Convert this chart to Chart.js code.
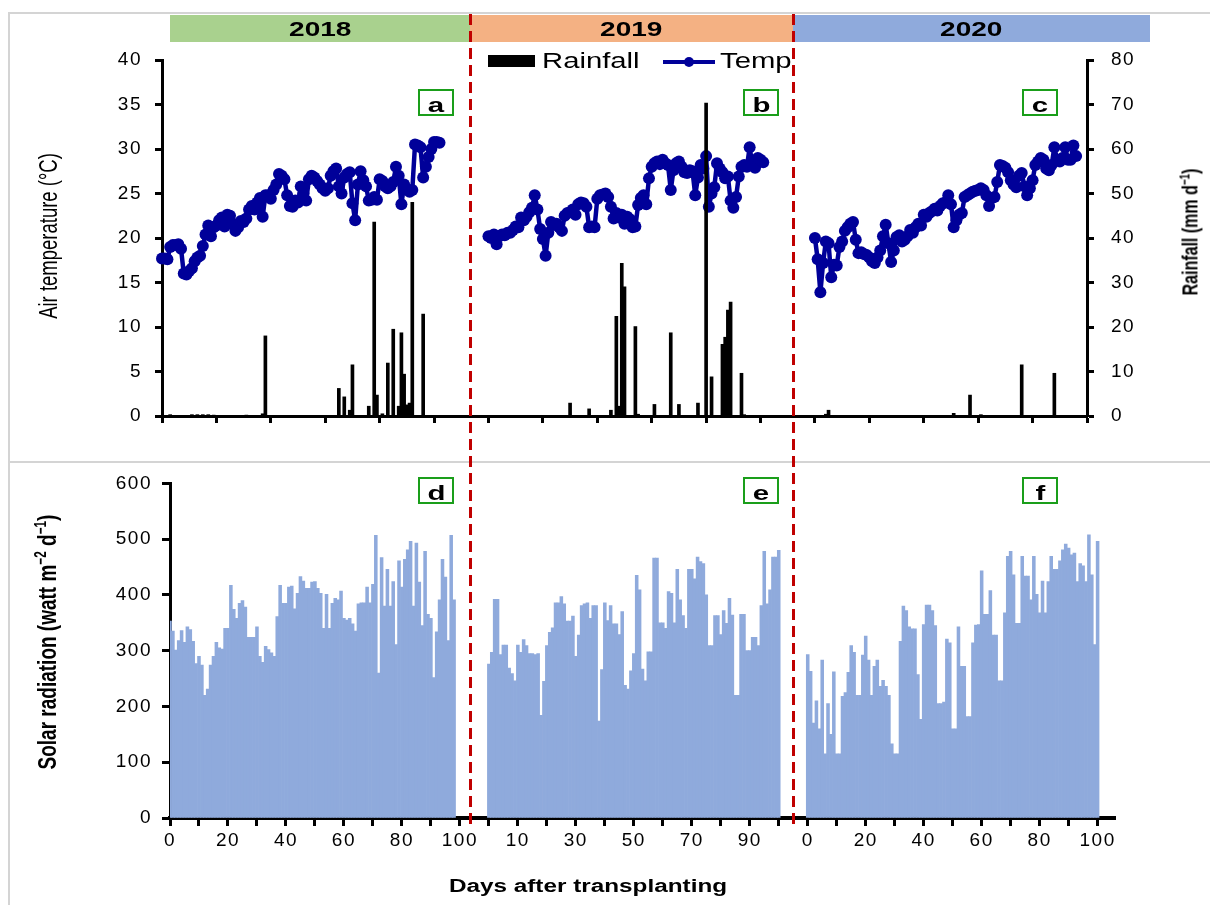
<!DOCTYPE html>
<html>
<head>
<meta charset="utf-8">
<title>Weather during the three seasons</title>
<script src="https://cdn.jsdelivr.net/npm/chart.js@4.4.1/dist/chart.umd.min.js"></script>
<style>
  body { margin: 0; background: #fff; }
  #figure { position: relative; width: 1210px; height: 905px; overflow: hidden; font-family: "Liberation Sans", Arial, sans-serif; color: #000; }
  #figure canvas { position: absolute; left: 0; }
  .rule { position: absolute; background: #d4d4d4; }
  .season { position: absolute; top: 15px; height: 27px; line-height: 28px; text-align: center; font-weight: bold; font-size: 20px; }
  .wide { display: inline-block; transform: scaleX(1.4); }
  .tag { position: absolute; width: 32px; height: 23px; border: 2px solid #1a9e1a; background: #fff; text-align: center; line-height: 27px; font-weight: bold; font-size: 21px; }
  .season-break { position: absolute; top: 14px; width: 3px; height: 814px; z-index: 5;
    background: repeating-linear-gradient(to bottom, #c00000 0 11px, transparent 11px 17px); }
  .axis-title { position: absolute; white-space: nowrap; transform: translate(-50%, -50%) rotate(-90deg) scaleY(1.4); }
  .axis-title sup { font-size: 0.62em; }
  .key { position: absolute; }
  .key-text { position: absolute; top: 49px; font-size: 22px; line-height: 24px; transform: scaleX(1.33); transform-origin: left center; }
  #x-title { position: absolute; left: 588px; top: 886px; transform: translate(-50%, -50%) scaleX(1.35); font-weight: bold; font-size: 18px; white-space: nowrap; }
</style>
</head>
<body>
<div id="figure">
  <div class="rule" style="left:9px;top:12px;width:1201px;height:2px"></div>
  <div class="rule" style="left:8px;top:12px;width:2px;height:893px"></div>
  <div class="rule" style="left:9px;top:461px;width:1201px;height:2px"></div>

  <canvas id="weather-chart" width="1210" height="462" style="top:0"></canvas>
  <canvas id="solar-chart" width="1210" height="443" style="top:462px"></canvas>

  <div class="season" style="left:170px;width:300px;background:#a9d18e"><span class="wide">2018</span></div>
  <div class="season" style="left:470px;width:323px;background:#f4b183"><span class="wide">2019</span></div>
  <div class="season" style="left:793px;width:357px;background:#8faadc"><span class="wide">2020</span></div>

  <div class="key" style="left:488px;top:55px;width:47px;height:12px;background:#000"></div>
  <div class="key-text" style="left:542px">Rainfall</div>
  <div class="key" style="left:663px;top:60px;width:52px;height:4px;background:#000099"></div>
  <div class="key" style="left:684px;top:57px;width:10px;height:10px;border-radius:50%;background:#000099"></div>
  <div class="key-text" style="left:720px">Temp</div>

  <div class="tag" style="left:418px;top:89px"><span class="wide">a</span></div>
  <div class="tag" style="left:743px;top:89px"><span class="wide">b</span></div>
  <div class="tag" style="left:1022px;top:89px"><span class="wide">c</span></div>
  <div class="tag" style="left:418px;top:477px"><span class="wide">d</span></div>
  <div class="tag" style="left:743px;top:477px"><span class="wide">e</span></div>
  <div class="tag" style="left:1022px;top:477px"><span class="wide">f</span></div>

  <div class="axis-title" style="left:49px;top:236px;font-size:18.5px">Air temperature (°C)</div>
  <div class="axis-title" style="left:1190px;top:232px;font-size:16px;font-weight:bold">Rainfall (mm d<sup>−1</sup>)</div>
  <div class="axis-title" style="left:47px;top:642px;font-size:19px;font-weight:bold">Solar radiation (watt m<sup>−2</sup> d<sup>−1</sup>)</div>
  <div id="x-title">Days after transplanting</div>

  <div class="season-break" style="left:469px"></div>
  <div class="season-break" style="left:792px"></div>
</div>

<script>
// daily air temperature (°C), one value per day after transplanting
const temp2018 = [17.7, 17.7, 17.6, 19.0, 19.2, 19.2, 19.3, 18.8, 16.0, 15.9,
  16.3, 16.6, 17.4, 17.8, 18.0, 19.1, 20.4, 21.4, 20.2, 21.2,
  21.4, 22.0, 22.3, 21.3, 22.6, 22.5, 21.6, 20.8, 21.2, 21.9,
  21.8, 22.2, 23.2, 23.6, 23.2, 24.0, 24.5, 22.4, 24.8, 24.8,
  24.4, 25.4, 26.0, 27.2, 27.0, 26.6, 24.8, 23.6, 23.5, 24.2,
  24.0, 25.8, 25.0, 24.2, 26.6, 27.0, 26.8, 26.4, 26.0, 25.6,
  25.3, 25.6, 27.0, 27.5, 27.8, 25.8, 25.0, 26.8, 27.2, 27.4,
  23.9, 22.0, 26.0, 27.5, 26.5, 25.8, 24.2, 24.3, 24.6, 24.3,
  26.6, 26.4, 25.8, 25.6, 25.8, 26.3, 28.0, 27.0, 23.8, 26.0,
  25.5, 25.2, 25.4, 30.5, 30.4, 30.2, 26.8, 28.0, 29.1, 30.0,
  30.8, 30.8, 30.7];
const temp2019 = [20.2, 20.0, 20.4, 19.3, 20.2, 20.4, 20.3, 20.6, 20.6, 20.9,
  21.3, 21.2, 22.3, 22.0, 22.4, 22.9, 23.4, 24.8, 23.2, 21.0,
  19.9, 18.0, 20.6, 21.8, 21.5, 21.6, 21.2, 20.8, 22.5, 22.8,
  22.9, 23.2, 22.6, 23.8, 24.0, 23.9, 23.5, 21.2, 21.3, 21.2,
  24.4, 24.8, 24.9, 25.0, 24.6, 23.5, 22.2, 22.8, 22.3, 22.6,
  21.6, 22.4, 22.1, 21.2, 21.3, 23.7, 24.5, 24.8, 23.8, 26.7,
  28.0, 28.4, 28.6, 28.3, 28.8, 28.4, 28.2, 25.4, 27.6, 28.4,
  28.6, 28.0, 27.4, 27.3, 27.6, 27.5, 24.8, 26.8, 28.2, 27.8,
  29.2, 23.5, 25.0, 25.7, 28.4, 27.8, 27.4, 26.7, 26.9, 24.2,
  23.4, 24.6, 26.9, 28.0, 28.2, 28.0, 30.2, 28.2, 27.9, 29.0,
  28.8, 28.5];
const temp2020 = [20.0, 17.6, 13.9, 17.2, 19.6, 19.4, 15.6, 17.0, 16.9, 19.0,
  19.6, 20.8, 21.2, 21.6, 21.8, 19.8, 18.3, 18.4, 18.2, 18.1,
  17.8, 17.4, 17.2, 17.8, 18.6, 20.2, 21.5, 19.4, 17.3, 18.6,
  20.1, 20.3, 19.6, 19.8, 20.2, 20.9, 20.6, 21.2, 21.6, 21.4,
  22.6, 22.4, 22.8, 23.0, 23.3, 23.1, 23.6, 23.9, 24.0, 24.8,
  23.8, 21.2, 22.0, 22.6, 22.8, 24.6, 24.8, 25.0, 25.2, 25.3,
  25.4, 25.6, 25.4, 24.8, 23.6, 24.5, 24.6, 26.3, 28.2, 28.1,
  27.9, 27.4, 26.5, 26.0, 25.7, 27.0, 27.3, 25.8, 24.8, 25.6,
  26.5, 28.2, 28.6, 29.0, 28.8, 27.8, 27.6, 28.2, 30.2, 28.8,
  28.6, 29.0, 30.2, 28.8, 28.8, 30.4, 29.2];

// rainy days (day after transplanting) and the rain on them (mm)
const rainDay2018 = [3, 11, 13, 15, 17, 19, 31, 37, 38, 65, 67, 69, 70, 76, 78, 79, 81, 83, 85, 87, 88, 89, 90, 91, 92, 96];
const rain2018 = [0.3, 0.3, 0.3, 0.3, 0.3, 0.2, 0.2, 0.5, 18.0, 6.2, 4.3, 1.3, 11.5, 2.2, 43.6, 4.7, 0.5, 11.9, 19.5, 2.2, 18.7, 9.4, 2.5, 2.9, 48.0, 22.9];
const rainDay2019 = [30, 37, 45, 47, 48, 49, 50, 54, 55, 61, 67, 70, 77, 80, 82, 86, 87, 88, 89, 93, 94];
const rain2019 = [2.9, 1.6, 1.3, 22.4, 2.2, 34.3, 29.0, 20.1, 0.4, 2.6, 18.7, 2.6, 2.9, 70.3, 8.8, 16.1, 17.7, 23.8, 25.6, 9.6, 0.3];
const rainDay2020 = [4, 5, 51, 57, 61, 76, 88];
const rain2020 = [0.4, 1.3, 0.6, 4.7, 0.3, 11.5, 9.6];

// daily solar radiation (watt m-2 d-1)
const solar2018 = [353, 335, 301, 318, 336, 315, 343, 338, 317, 277,
  290, 274, 220, 231, 274, 290, 315, 305, 303, 340,
  340, 417, 374, 358, 385, 390, 378, 324, 324, 324,
  343, 290, 279, 308, 302, 296, 290, 361, 417, 385,
  385, 414, 416, 375, 403, 433, 425, 412, 412, 423,
  424, 412, 403, 340, 401, 340, 385, 394, 391, 407,
  358, 355, 358, 348, 335, 384, 386, 386, 414, 386,
  419, 507, 260, 467, 380, 446, 380, 424, 311, 461,
  414, 464, 481, 496, 380, 493, 423, 345, 478, 365,
  358, 252, 334, 391, 464, 432, 318, 507, 391];
const solar2019 = [276, 297, 392, 392, 293, 310, 310, 269, 259, 246,
  310, 297, 320, 309, 295, 295, 293, 295, 184, 245,
  309, 333, 341, 386, 386, 397, 384, 353, 353, 362,
  290, 328, 381, 384, 386, 358, 381, 381, 174, 266,
  386, 354, 381, 348, 348, 329, 370, 238, 231, 264,
  295, 435, 409, 267, 246, 298, 298, 466, 466, 350,
  350, 340, 406, 403, 350, 446, 391, 363, 340, 446,
  446, 429, 468, 460, 456, 400, 309, 309, 363, 363,
  329, 372, 349, 394, 364, 220, 220, 365, 365, 300,
  300, 324, 324, 309, 381, 478, 384, 409, 468, 468,
  480];
const solar2020 = [293, 263, 170, 210, 160, 283, 115, 205, 150, 262,
  115, 115, 218, 225, 261, 309, 297, 220, 220, 292,
  326, 283, 220, 272, 283, 236, 247, 236, 220, 133,
  115, 115, 317, 380, 372, 343, 339, 339, 257, 177,
  347, 382, 382, 372, 345, 205, 205, 208, 321, 314,
  160, 160, 343, 272, 272, 182, 182, 314, 346, 347,
  443, 365, 365, 408, 328, 328, 246, 246, 368, 469,
  478, 436, 349, 349, 469, 434, 434, 391, 469, 401,
  368, 425, 368, 424, 469, 446, 446, 461, 481, 491,
  484, 472, 475, 424, 456, 452, 424, 508, 436, 311,
  496];

// slots on the two category axes and where each season begins on them
const topSlots = 341;
const topStart = [0, 120, 240];
const solarSlots = 327;
const solarStart = [0, 110, 220];
// labels under every 20th slot of the solar axis
const solarTickLabels = ['0', '20', '40', '60', '80', '100', '10', '30', '50', '70', '90', '0', '20', '40', '60', '80', '100'];

Chart.defaults.font.family = '"Liberation Sans", Arial, sans-serif';
Chart.defaults.font.size = 19;
Chart.defaults.color = '#000';

function placeSeries(slots, starts, series) {
  const out = new Array(slots).fill(null);
  series.forEach((values, k) => {
    values.forEach((v, i) => { out[starts[k] + i] = v; });
  });
  return out;
}

function placeEvents(slots, starts, days, amounts) {
  const out = new Array(slots).fill(null);
  days.forEach((list, k) => {
    list.forEach((day, i) => { out[starts[k] + day] = amounts[k][i]; });
  });
  return out;
}

// the original figure is stretched sideways, widen the tick text a bit
const wideLabels = {
  id: 'wideLabels',
  beforeDraw(chart) { chart.ctx.letterSpacing = '1.5px'; },
};

function marks(len) {
  return { drawOnChartArea: false, drawTicks: true, tickLength: len, tickWidth: 3, tickColor: '#000', color: '#000', offset: false };
}
const axisLine = { display: true, color: '#000', width: 3 };

const baseOptions = {
  responsive: false,
  animation: false,
  devicePixelRatio: 1,
  events: [],
  plugins: { legend: { display: false }, tooltip: { enabled: false } },
};

new Chart(document.getElementById('weather-chart'), {
  type: 'bar',
  data: {
    labels: Array.from({ length: topSlots }, (_, i) => i),
    datasets: [
      {
        type: 'bar',
        label: 'Rainfall',
        yAxisID: 'rain',
        data: placeEvents(topSlots, topStart, [rainDay2018, rainDay2019, rainDay2020], [rain2018, rain2019, rain2020]),
        backgroundColor: '#000',
        barThickness: 3,
        order: 0,
      },
      {
        type: 'line',
        label: 'Temp',
        yAxisID: 'temp',
        data: placeSeries(topSlots, topStart, [temp2018, temp2019, temp2020]),
        borderColor: '#000099',
        backgroundColor: '#000099',
        borderWidth: 4.5,
        borderJoinStyle: 'round',
        borderCapStyle: 'round',
        pointRadius: 6,
        pointBorderWidth: 0,
        clip: false,
        order: 1,
      },
    ],
  },
  options: {
    ...baseOptions,
    layout: { padding: { top: 60, left: 0, right: 0, bottom: 0 } },
    scales: {
      x: {
        type: 'category',
        offset: false,
        grid: marks(7),
        border: axisLine,
        ticks: { autoSkip: false, maxRotation: 0, callback: () => '' },
        afterBuildTicks: (scale) => { scale.ticks = scale.ticks.filter((t) => t.value % 20 === 0); },
        afterFit: (scale) => { scale.height = 46; },
      },
      temp: {
        type: 'linear',
        position: 'left',
        min: 0,
        max: 40,
        grid: marks(7),
        border: axisLine,
        ticks: { stepSize: 5, padding: 13 },
        afterFit: (scale) => { scale.width = 162; },
      },
      rain: {
        type: 'linear',
        position: 'right',
        min: 0,
        max: 80,
        grid: marks(7),
        border: axisLine,
        ticks: { stepSize: 10, padding: 17 },
        afterFit: (scale) => { scale.width = 123; },
      },
    },
  },
  plugins: [wideLabels],
});

new Chart(document.getElementById('solar-chart'), {
  type: 'bar',
  data: {
    labels: Array.from({ length: solarSlots }, (_, i) => i),
    datasets: [{
      label: 'Solar radiation',
      data: placeSeries(solarSlots, solarStart, [solar2018, solar2019, solar2020]),
      backgroundColor: '#8faadc',
      barPercentage: 1,
      categoryPercentage: 1,
      borderWidth: 0,
    }],
  },
  options: {
    ...baseOptions,
    layout: { padding: { top: 11, left: 0, right: 95, bottom: 0 } },
    scales: {
      x: {
        type: 'category',
        offset: false,
        grid: marks(8),
        border: { display: true, color: '#000', width: 4 },
        ticks: {
          autoSkip: false,
          maxRotation: 0,
          padding: 3,
          callback: (value) => (value % 20 === 0 ? solarTickLabels[value / 20] : ''),
        },
        afterBuildTicks: (scale) => { scale.ticks = scale.ticks.filter((t) => t.value % 10 === 0); },
        afterFit: (scale) => { scale.height = 87; },
      },
      y: {
        type: 'linear',
        min: 0,
        max: 600,
        grid: marks(8),
        border: axisLine,
        ticks: { stepSize: 100, padding: 10 },
        afterFit: (scale) => { scale.width = 170; },
      },
    },
  },
  plugins: [wideLabels],
});
</script>
</body>
</html>
